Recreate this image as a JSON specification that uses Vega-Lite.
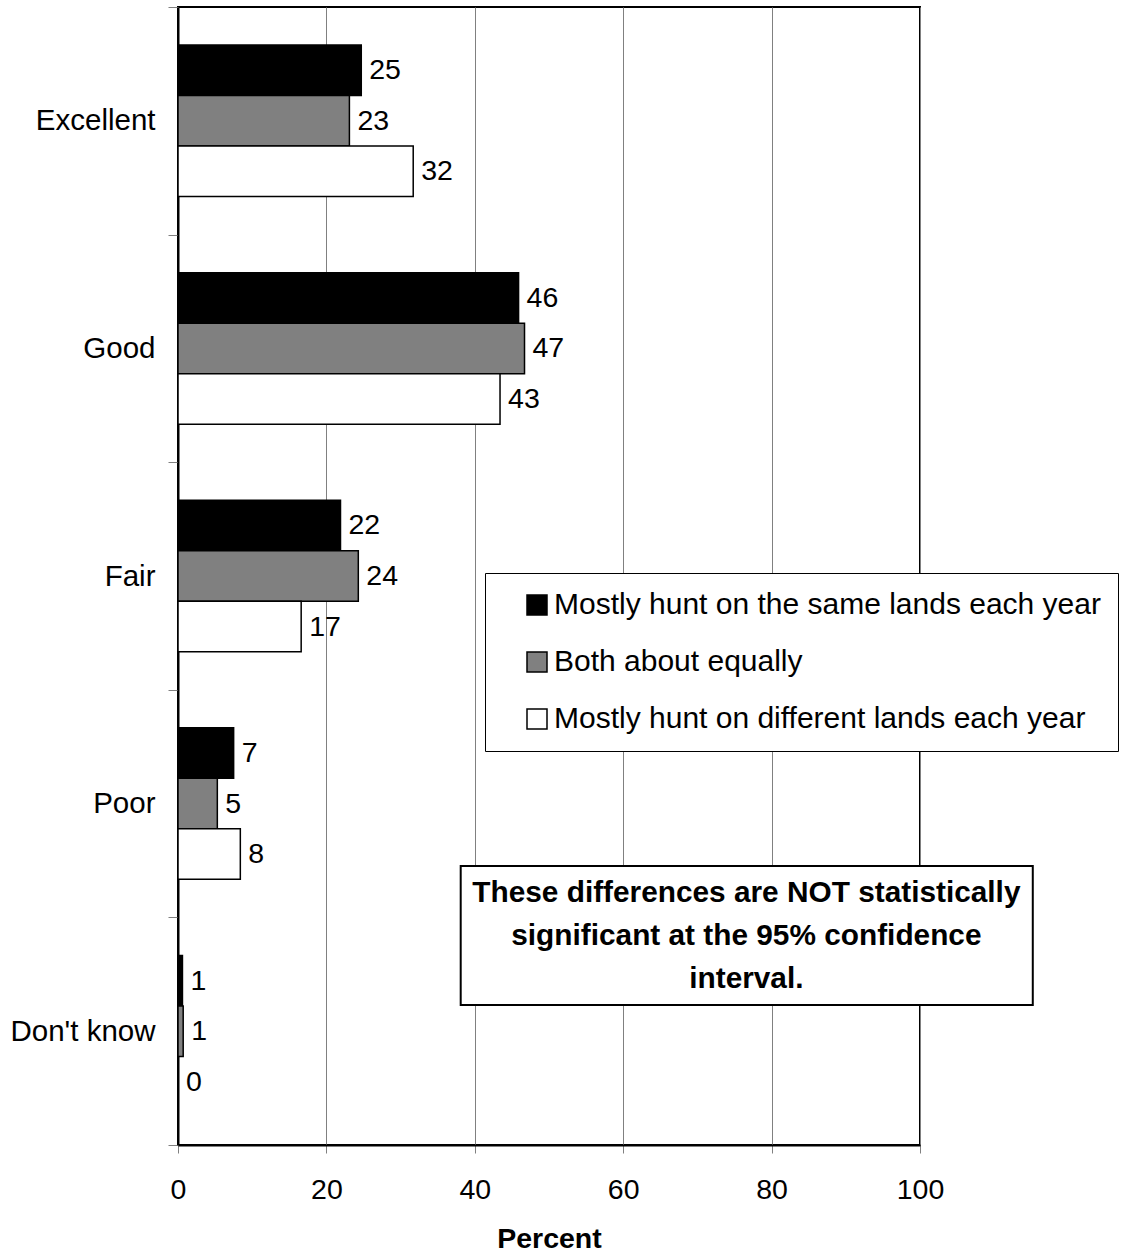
{
  "$schema": "https://vega.github.io/schema/vega-lite/v6.json",
  "width": 742,
  "height": 1138,
  "autosize": {"type": "none"},
  "padding": {"left": 178, "top": 7, "right": 203, "bottom": 109},
  "background": "white",
  "config": {
    "font": "Liberation Sans",
    "view": {"stroke": "black", "strokeWidth": 2}
  },
  "datasets": {
    "bars": [
      {"rating": "Excellent", "group": "Mostly hunt on the same lands each year", "percent": 24.7, "label": "25"},
      {"rating": "Excellent", "group": "Both about equally", "percent": 23.1, "label": "23"},
      {"rating": "Excellent", "group": "Mostly hunt on different lands each year", "percent": 31.7, "label": "32"},
      {"rating": "Good", "group": "Mostly hunt on the same lands each year", "percent": 45.9, "label": "46"},
      {"rating": "Good", "group": "Both about equally", "percent": 46.7, "label": "47"},
      {"rating": "Good", "group": "Mostly hunt on different lands each year", "percent": 43.4, "label": "43"},
      {"rating": "Fair", "group": "Mostly hunt on the same lands each year", "percent": 21.9, "label": "22"},
      {"rating": "Fair", "group": "Both about equally", "percent": 24.3, "label": "24"},
      {"rating": "Fair", "group": "Mostly hunt on different lands each year", "percent": 16.6, "label": "17"},
      {"rating": "Poor", "group": "Mostly hunt on the same lands each year", "percent": 7.5, "label": "7"},
      {"rating": "Poor", "group": "Both about equally", "percent": 5.3, "label": "5"},
      {"rating": "Poor", "group": "Mostly hunt on different lands each year", "percent": 8.4, "label": "8"},
      {"rating": "Don't know", "group": "Mostly hunt on the same lands each year", "percent": 0.6, "label": "1"},
      {"rating": "Don't know", "group": "Both about equally", "percent": 0.7, "label": "1"},
      {"rating": "Don't know", "group": "Mostly hunt on different lands each year", "percent": 0, "label": "0"}
    ],
    "note": [
      {"x1": 38.1, "x2": 115.2, "y1": 1.226, "y2": 0.615, "tx": 76.6, "ty": 1.107, "text": "These differences are NOT statistically\nsignificant at the 95% confidence\ninterval."}
    ]
  },
  "layer": [
    {
      "data": {"name": "bars"},
      "encoding": {
        "y": {
          "field": "rating",
          "type": "nominal",
          "sort": ["Excellent", "Good", "Fair", "Poor", "Don't know"],
          "scale": {"paddingInner": 0, "paddingOuter": 0},
          "axis": {
            "title": null,
            "labelFontSize": 29.5,
            "labelColor": "black",
            "labelPadding": 13,
            "labelLimit": 300,
            "tickSize": 10,
            "tickColor": "#808080",
            "tickWidth": 1,
            "tickBand": "extent",
            "domainColor": "black",
            "domainWidth": 2,
            "grid": false
          }
        },
        "yOffset": {
          "field": "group",
          "type": "nominal",
          "sort": ["Mostly hunt on the same lands each year", "Both about equally", "Mostly hunt on different lands each year"],
          "scale": {"paddingInner": 0, "paddingOuter": 0.753}
        },
        "x": {
          "field": "percent",
          "type": "quantitative",
          "title": "Percent",
          "scale": {"domain": [0, 100], "nice": false},
          "axis": {
            "values": [0, 20, 40, 60, 80, 100],
            "title": "Percent",
            "titleFontSize": 28.5,
            "titleFontWeight": "bold",
            "titleColor": "black",
            "titlePadding": 21,
            "labelFontSize": 28.5,
            "labelColor": "black",
            "labelPadding": 22,
            "labelFlush": false,
            "tickSize": 8,
            "tickColor": "#808080",
            "tickWidth": 1,
            "domainColor": "black",
            "domainWidth": 2,
            "grid": true,
            "gridColor": "#808080",
            "gridWidth": 1
          }
        }
      },
      "layer": [
        {
          "mark": {"type": "bar", "stroke": "black", "strokeWidth": 1.5},
          "encoding": {
            "color": {
              "field": "group",
              "type": "nominal",
              "scale": {
                "domain": ["Mostly hunt on the same lands each year", "Both about equally", "Mostly hunt on different lands each year"],
                "range": ["#000000", "#808080", "#ffffff"]
              },
              "legend": {
                "title": null,
                "orient": "none",
                "legendX": 307,
                "legendY": 566,
                "direction": "vertical",
                "symbolType": "square",
                "symbolSize": 400,
                "symbolStrokeColor": "black",
                "symbolStrokeWidth": 1.5,
                "symbolOpacity": 1,
                "symbolOffset": 20,
                "labelFontSize": 30,
                "labelColor": "black",
                "labelLimit": 1000,
                "labelOffset": 2,
                "rowPadding": 27,
                "padding": 17,
                "strokeColor": "black",
                "fillColor": "white"
              }
            }
          }
        },
        {
          "mark": {"type": "text", "align": "left", "baseline": "middle", "dx": 8, "fontSize": 28.5, "color": "black"},
          "encoding": {"text": {"field": "label"}}
        }
      ]
    },
    {
      "data": {"name": "note"},
      "layer": [
        {
          "mark": {"type": "rect", "fill": "white", "stroke": "black", "strokeWidth": 2},
          "encoding": {
            "x": {"field": "x1", "type": "quantitative", "title": "Percent"},
            "x2": {"field": "x2"},
            "y": {"field": "y1", "type": "quantitative", "scale": {"domain": [0, 5]}, "axis": null},
            "y2": {"field": "y2"}
          }
        },
        {
          "mark": {"type": "text", "align": "center", "baseline": "middle", "fontSize": 29.8, "fontWeight": "bold", "lineHeight": 43, "lineBreak": "\n", "color": "black"},
          "encoding": {
            "x": {"field": "tx", "type": "quantitative", "title": "Percent"},
            "y": {"field": "ty", "type": "quantitative", "scale": {"domain": [0, 5]}, "axis": null},
            "text": {"field": "text"}
          }
        }
      ]
    }
  ],
  "resolve": {"scale": {"y": "independent"}}
}
